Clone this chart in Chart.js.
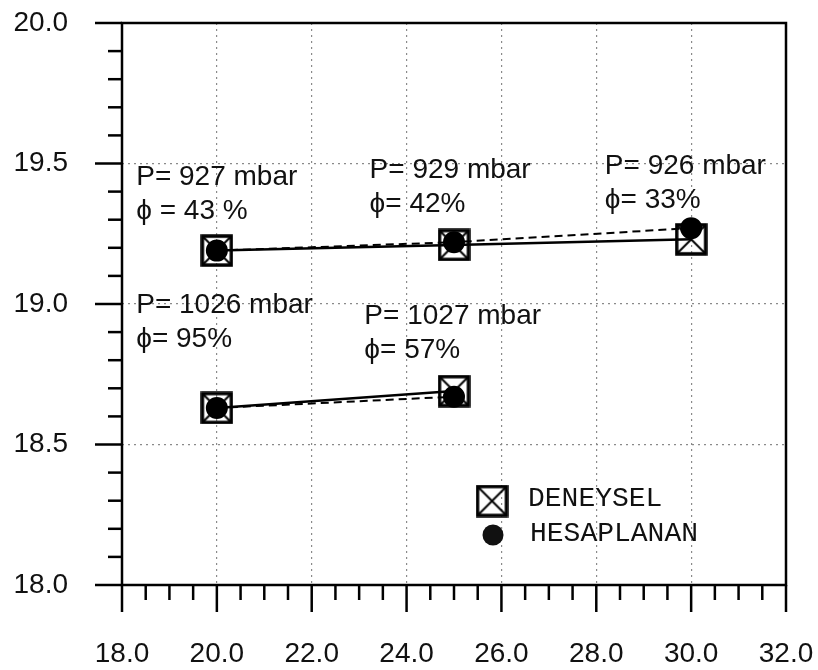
<!DOCTYPE html>
<html>
<head>
<meta charset="utf-8">
<script src="https://cdn.jsdelivr.net/npm/chart.js@4.4.1/dist/chart.umd.min.js"></script>
<style>
  html, body { margin: 0; padding: 0; background: #fff; }
  canvas { display: block; }
</style>
</head>
<body>
<canvas id="chart" width="818" height="670"></canvas>
<script>
// temperature (x) for the two pressure groups
const tempHigh = [20, 25, 30];
const tempLow = [20, 25];

// measured values (DENEYSEL) and computed values (HESAPLANAN)
const deneyselHigh = [19.19, 19.21, 19.23];
const hesapHigh = [19.19, 19.22, 19.27];
const deneyselLow = [18.63, 18.69];
const hesapLow = [18.63, 18.67];

// axis ranges
const xMin = 18, xMax = 32, xStep = 2, xMinor = 0.5;
const yMin = 18, yMax = 20, yStep = 0.5, yMinor = 0.1;

// condition labels written inside the plot
const noteText = [
  ['P= 927 mbar', 'ϕ = 43 %'],
  ['P= 929 mbar', 'ϕ= 42%'],
  ['P= 926 mbar', 'ϕ= 33%'],
  ['P= 1026 mbar', 'ϕ= 95%'],
  ['P= 1027 mbar', 'ϕ= 57%']
];
const noteX = [18.3, 23.22, 28.18, 18.3, 23.11];
const noteY = [19.45, 19.477, 19.491, 18.996, 18.957];

const legendNames = ['DENEYSEL', 'HESAPLANAN'];

function pts(xs, ys) {
  return xs.map((x, i) => ({ x: x, y: ys[i] }));
}

// square with a cross, used for the measured points
function makeBoxCross(size) {
  const c = document.createElement('canvas');
  c.width = size + 4;
  c.height = size + 4;
  const g = c.getContext('2d');
  g.strokeStyle = '#000';
  g.lineWidth = 3.5;
  g.strokeRect(2, 2, size, size);
  g.lineWidth = 2;
  g.beginPath();
  g.moveTo(3, 3); g.lineTo(size + 1, size + 1);
  g.moveTo(size + 1, 3); g.lineTo(3, size + 1);
  g.stroke();
  return c;
}
const boxCross = makeBoxCross(29);

const frameAndTicks = {
  id: 'frameAndTicks',
  afterDraw(chart) {
    const ctx = chart.ctx;
    const xs = chart.scales.x, ys = chart.scales.y;
    const a = chart.chartArea;
    ctx.save();
    ctx.strokeStyle = '#000';
    ctx.lineWidth = 2.5;
    ctx.lineCap = 'butt';

    // x ticks below the bottom axis
    for (let v = xMin; v <= xMax + 1e-9; v += xMinor) {
      const px = xs.getPixelForValue(v);
      const major = Math.abs(v / xStep - Math.round(v / xStep)) < 1e-6;
      ctx.beginPath();
      ctx.moveTo(px, a.bottom);
      ctx.lineTo(px, a.bottom + (major ? 27 : 15));
      ctx.stroke();
    }
    // y ticks left of the axis
    for (let v = yMin; v <= yMax + 1e-9; v += yMinor) {
      const py = ys.getPixelForValue(v);
      const major = Math.abs(v / yStep - Math.round(v / yStep)) < 1e-6;
      ctx.beginPath();
      ctx.moveTo(a.left, py);
      ctx.lineTo(a.left - (major ? 27 : 14), py);
      ctx.stroke();
    }
    // frame
    ctx.beginPath();
    ctx.rect(a.left, a.top, a.right - a.left, a.bottom - a.top);
    ctx.stroke();

    // condition notes
    ctx.fillStyle = '#111';
    ctx.font = '28px "Liberation Sans", Arial, sans-serif';
    ctx.textAlign = 'left';
    ctx.textBaseline = 'middle';
    noteText.forEach((lines, i) => {
      const px = xs.getPixelForValue(noteX[i]);
      const py = ys.getPixelForValue(noteY[i]);
      ctx.fillText(lines[0], px, py);
      ctx.fillText(lines[1], px, py + 34);
    });

    // legend
    const lx = a.left + 370, ly = a.top + 478;
    ctx.drawImage(boxCross, lx - boxCross.width / 2, ly - boxCross.height / 2);
    ctx.beginPath();
    ctx.arc(lx + 1, ly + 34, 10.5, 0, Math.PI * 2);
    ctx.fill();
    ctx.font = '28px "Liberation Mono", "Courier New", monospace';
    ctx.fillText(legendNames[0], lx + 36, ly - 2);
    ctx.fillText(legendNames[1], lx + 38, ly + 33);
    ctx.restore();
  }
};

const gridColor = (lo, hi) => (c) => {
  const v = c.tick.value;
  return (Math.abs(v - lo) < 1e-6 || Math.abs(v - hi) < 1e-6) ? 'rgba(0,0,0,0)' : '#8a8a8a';
};

const common = { showLine: true, borderColor: '#000', pointBorderColor: '#000', pointBackgroundColor: '#000' };
const tickFont = { family: '"Liberation Sans", Arial, sans-serif', size: 28 };

new Chart(document.getElementById('chart'), {
  type: 'scatter',
  data: {
    datasets: [
      Object.assign({ label: 'HESAPLANAN', data: pts(tempHigh, hesapHigh), borderWidth: 2, borderDash: [8, 5], pointStyle: 'circle', pointRadius: 10, order: 0 }, common),
      Object.assign({ label: 'HESAPLANAN', data: pts(tempLow, hesapLow), borderWidth: 2, borderDash: [8, 5], pointStyle: 'circle', pointRadius: 10, order: 0 }, common),
      Object.assign({ label: 'DENEYSEL', data: pts(tempHigh, deneyselHigh), borderWidth: 2.5, pointStyle: boxCross, order: 1 }, common),
      Object.assign({ label: 'DENEYSEL', data: pts(tempLow, deneyselLow), borderWidth: 2.5, pointStyle: boxCross, order: 1 }, common)
    ]
  },
  options: {
    responsive: false,
    animation: false,
    layout: { padding: { left: 0, right: 32, top: 23, bottom: 0 } },
    plugins: { legend: { display: false }, tooltip: { enabled: false } },
    scales: {
      x: {
        min: xMin, max: xMax,
        afterFit: (s) => { s.height = 85; },
        border: { display: false, dash: [2, 4] },
        grid: { color: gridColor(xMin, xMax), lineWidth: 1.2, borderDash: [2, 4], drawTicks: true, tickLength: 50, tickColor: 'rgba(0,0,0,0)' },
        ticks: {
          stepSize: xStep, padding: 2, color: '#111', font: tickFont,
          callback: (v) => Number(v).toFixed(1)
        }
      },
      y: {
        min: yMin, max: yMax,
        afterFit: (s) => { s.width = 122; },
        border: { display: false, dash: [2, 4] },
        grid: { color: gridColor(yMin, yMax), lineWidth: 1.2, borderDash: [2, 4], drawTicks: true, tickLength: 52, tickColor: 'rgba(0,0,0,0)' },
        ticks: {
          stepSize: yStep, padding: 2, color: '#111', font: tickFont,
          callback: (v) => Number(v).toFixed(1)
        }
      }
    }
  },
  plugins: [frameAndTicks]
});
</script>
</body>
</html>
